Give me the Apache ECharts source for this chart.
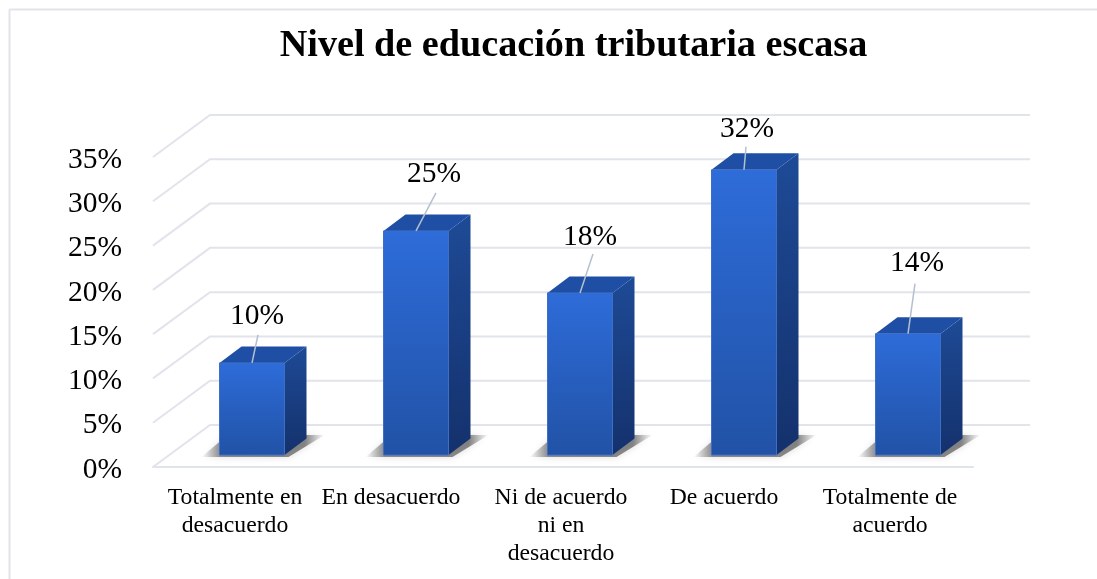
<!DOCTYPE html>
<html><head><meta charset="utf-8">
<style>html,body{margin:0;padding:0;background:#fff}#c{width:1097px;height:579px}</style>
<script src="https://cdn.jsdelivr.net/npm/echarts@6/dist/echarts.min.js"></script>
</head><body><div id="c"></div>
<script>
const title = 'Nivel de educación tributaria escasa';
const categories = ['Totalmente en\ndesacuerdo','En desacuerdo','Ni de acuerdo\nni en\ndesacuerdo','De acuerdo','Totalmente de\nacuerdo'];
const values = [10.4, 25.3, 18.3, 32.2, 13.7];
const ticks = [0,5,10,15,20,25,30,35];
// label offset from the bar's top-front centre
const labelDx = [5, 18, 10, 3, 9];
const labelDy = [-46.5, -56.5, -55.5, -40.5, -70.5];
const leaderDx = [6, 20, 13, 2, 7];
const leaderDy = [-28, -38, -39, -23, -50];
const catShift = [0, 16, 4, 6, 2];

const FONT = '"Liberation Serif","Times New Roman",serif';
const WALL = [57,-42], BARSHIFT = [17,-12], DEPTH = [22,-16.5], BARW = 65;
const grid = {left:153, top:157, width:820, height:310};

function poly(pts, fill){ return {type:'polygon', shape:{points:pts}, style:{fill}, silent:true}; }
function vg(a,b){ return {type:'linear',x:0,y:0,x2:0,y2:1,colorStops:[{offset:0,color:a},{offset:1,color:b}]}; }

const option = {
  backgroundColor:'#fff', animation:false,
  title:{text:title,left:568.5,top:22,textAlign:'center',textStyle:{fontFamily:FONT,fontWeight:'bold',fontSize:38.2,color:'#000'}},
  grid,
  xAxis:{type:'category',data:categories,axisTick:{show:false},
    axisLine:{show:true,lineStyle:{color:'#e1e4eb',width:2}},
    axisLabel:{color:'#000',margin:17,interval:0,
      formatter(v,i){ return v.split('\n').map(s=>'{c'+i+'|'+s+'}').join('\n'); },
      rich:Object.fromEntries(catShift.map((s,i)=>['c'+i,{fontFamily:FONT,fontSize:23.7,lineHeight:28,color:'#000',padding:[0,s,0,0]}]))},
    splitLine:{show:false}},
  yAxis:{type:'value',min:0,max:35,interval:5,axisLine:{show:false},axisTick:{show:false},splitLine:{show:false},
    axisLabel:{color:'#000',margin:31,formatter:v=>'{t|'+v+'%}',
      rich:{t:{fontFamily:FONT,fontSize:29.5,color:'#000',padding:[6,0,0,0]}}}},
  graphic:[
    {type:'line',shape:{x1:9.5,y1:9.5,x2:1097,y2:9.5},style:{stroke:'#e2e4ec',lineWidth:2},z:-1},
    {type:'line',shape:{x1:9.5,y1:9.5,x2:9.5,y2:579},style:{stroke:'#e2e4ec',lineWidth:2},z:-1}
  ],
  series:[
    {type:'custom',coordinateSystem:'cartesian2d',z:1,silent:true,data:ticks.map(t=>[0,t]),
     renderItem(p,api){
       const y=api.coord([0,api.value(1)])[1], cs=p.coordSys, x=cs.x;
       return {type:'polyline',shape:{points:[[x,y],[x+WALL[0],y+WALL[1]],[x+cs.width+WALL[0],y+WALL[1]]]},
         style:{fill:'none',stroke:'#e1e4eb',lineWidth:2}};
     }},
    {type:'custom',coordinateSystem:'cartesian2d',z:2,silent:true,
     data:values.map((v,i)=>[i,v]),
     encode:{x:0,y:1},
     renderItem(p,api){
       const i=p.dataIndex;
       const c=api.coord([api.value(0),api.value(1)]), b=api.coord([api.value(0),0]);
       const x0=c[0]+BARSHIFT[0]-BARW/2, x1=x0+BARW, yt=c[1]+BARSHIFT[1], yb=b[1]+BARSHIFT[1];
       const dx=DEPTH[0], dy=DEPTH[1];
       const cx=(x0+x1)/2;
       return {type:'group',children:[
         {type:'polygon',shape:{points:[[x0-18,yb+2],[x1+4,yb+2],[x1+40,yb-20],[x0+8,yb-20]]},
          style:{fill:{type:'linear',x:0,y:0,x2:1,y2:0,colorStops:[{offset:0,color:'rgba(80,80,80,0)'},{offset:.16,color:'rgba(80,80,80,.62)'},{offset:.84,color:'rgba(70,70,70,.62)'},{offset:1,color:'rgba(80,80,80,0)'}]},shadowBlur:7,shadowColor:'rgba(90,90,90,.35)'}},
         poly([[x1,yt],[x1+dx,yt+dy],[x1+dx,yb+dy],[x1,yb]],vg('#1e4a96','#14316c')),
         poly([[x0,yt],[x0+dx,yt+dy],[x1+dx,yt+dy],[x1,yt]],'#1f4fa4'),
         {type:'rect',shape:{x:x0,y:yt,width:BARW,height:yb-yt},style:{fill:vg('#2e6cd9','#2152a6'),stroke:'#3f6fc4',lineWidth:1}},
         {type:'line',shape:{x1:cx,y1:yt,x2:cx+leaderDx[i],y2:yt+leaderDy[i]},style:{stroke:'#b4bfd0',lineWidth:1.5}},
         {type:'text',style:{x:cx+labelDx[i],y:yt+labelDy[i],text:Math.round(api.value(1))+'%',fontFamily:FONT,fontSize:29.5,fill:'#000',align:'center',verticalAlign:'middle'}}
       ]};
     }}
  ]
};
const chart = echarts.init(document.getElementById('c'),null,{renderer:'canvas'});
chart.setOption(option);
</script></body></html>
